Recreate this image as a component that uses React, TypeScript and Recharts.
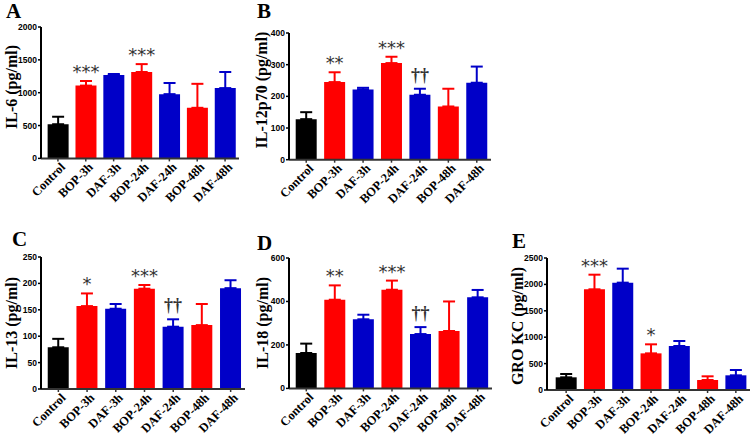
import { BarChart, Bar, XAxis, YAxis, ErrorBar, LabelList } from 'recharts';

const categories = ['Control', 'BOP-3h', 'DAF-3h', 'BOP-24h', 'DAF-24h', 'BOP-48h', 'DAF-48h'];
const groups = ['ctrl', 'bop', 'daf', 'bop', 'daf', 'bop', 'daf'];

// A: IL-6
const il6Mean = [520, 1108, 1268, 1315, 978, 770, 1070];
const il6Err = [114, 70, 17, 120, 170, 365, 245];
const il6Sig = ['', '***', '', '***', '', '', ''];
const il6Ticks = [0, 500, 1000, 1500, 2000];

// B: IL-12p70
const il12Mean = [128, 245, 222, 305, 205, 168, 243];
const il12Err = [22, 31, 5, 20, 19, 56, 51];
const il12Sig = ['', '**', '', '***', '††', '', ''];
const il12Ticks = [0, 100, 200, 300, 400];

// C: IL-13
const il13Mean = [79, 157, 152, 190, 118, 121, 191];
const il13Err = [16, 24, 9, 7, 14, 40, 15];
const il13Sig = ['', '*', '', '***', '††', '', ''];
const il13Ticks = [0, 50, 100, 150, 200, 250];

// D: IL-18
const il18Mean = [163, 408, 318, 454, 250, 264, 419];
const il18Err = [43, 66, 21, 42, 32, 136, 34];
const il18Sig = ['', '**', '', '***', '††', '', ''];
const il18Ticks = [0, 200, 400, 600];

// E: GRO KC
const groMean = [240, 1907, 2033, 694, 833, 189, 278];
const groErr = [63, 277, 265, 171, 95, 70, 101];
const groSig = ['', '***', '', '*', '', '', ''];
const groTicks = [0, 500, 1000, 1500, 2000, 2500];

const RED = '#ff0000';
const BLUE = '#0000c8';
const BLACK = '#000000';

function buildRows(means: number[], errs: number[], sig: string[]) {
  return categories.map((name, i) => {
    const g = groups[i];
    return {
      name,
      ctrl: g === 'ctrl' ? means[i] : null,
      bop: g === 'bop' ? means[i] : null,
      daf: g === 'daf' ? means[i] : null,
      ctrlErr: g === 'ctrl' ? [0, errs[i]] : null,
      bopErr: g === 'bop' ? [0, errs[i]] : null,
      dafErr: g === 'daf' ? [0, errs[i]] : null,
      // invisible spacer stacked up to the whisker top, carries the marks
      pad: sig[i] ? errs[i] : null,
      sig: sig[i],
    };
  });
}

function renderSig(props: any) {
  const vb = props.viewBox ?? props;
  const { x, y, width } = vb;
  const text = props.value;
  if (!text) return null;
  const dagger = String(text).includes('†');
  return (
    <text
      x={x + width / 2}
      y={dagger ? y - 8 : y - 3}
      textAnchor="middle"
      fill="#333"
      fontFamily={dagger ? 'Liberation Serif' : 'DejaVu Sans'}
      fontWeight={dagger ? 700 : 400}
      fontSize={18}
    >
      {text}
    </text>
  );
}

function renderXTick(props: any) {
  const { x, y, payload } = props;
  const px = x + 8;
  const py = y + 4.5;
  return (
    <text
      x={px}
      y={py}
      transform={`rotate(-45 ${px} ${py})`}
      textAnchor="end"
      fontFamily="Liberation Serif"
      fontWeight={700}
      fontSize={12.5}
      fill="#000"
    >
      {payload.value}
    </text>
  );
}

interface PanelProps {
  letter: string;
  letterPos: [number, number];
  label: string;
  labelPos: [number, number];
  axisX: number;
  top: number;
  bottom: number;
  right: number;
  padL: number;
  means: number[];
  errs: number[];
  sig: string[];
  ticks: number[];
}

function Panel(p: PanelProps) {
  const rows = buildRows(p.means, p.errs, p.sig);
  const yw = 40;
  const mt = 10;
  const xh = 60;
  const width = p.right - p.axisX + yw + 1;
  const height = p.bottom - p.top + mt + xh;
  const max = p.ticks[p.ticks.length - 1];
  return (
    <>
      <div
        style={{
          position: 'absolute',
          left: p.letterPos[0],
          top: p.letterPos[1],
          fontFamily: 'Liberation Serif',
          fontWeight: 700,
          fontSize: 21,
          lineHeight: 1,
        }}
      >
        {p.letter}
      </div>
      <div
        style={{
          position: 'absolute',
          left: p.labelPos[0],
          top: p.labelPos[1],
          transform: 'translate(-50%, -50%) rotate(-90deg)',
          whiteSpace: 'nowrap',
          fontFamily: 'Liberation Serif',
          fontWeight: 700,
          fontSize: 16,
          lineHeight: 1,
        }}
      >
        {p.label}
      </div>
      <div style={{ position: 'absolute', left: p.axisX - yw, top: p.top - mt }}>
        <BarChart
          width={width}
          height={height}
          data={rows}
          margin={{ top: mt, right: 1, left: 0, bottom: 0 }}
          barCategoryGap="13%"
        >
          <XAxis
            dataKey="name"
            interval={0}
            height={xh}
            tickSize={3}
            tickMargin={2}
            padding={{ left: p.padL, right: 0 }}
            axisLine={{ stroke: '#333', strokeWidth: 2 }}
            tickLine={{ stroke: '#333', strokeWidth: 1.5 }}
            tick={renderXTick}
          />
          <YAxis
            domain={[0, max]}
            ticks={p.ticks}
            interval={0}
            allowDataOverflow
            width={yw}
            tickSize={3}
            tickMargin={1}
            axisLine={{ stroke: '#000', strokeWidth: 2 }}
            tickLine={{ stroke: '#000', strokeWidth: 1.5 }}
            tick={{ fontSize: 8.5, fontWeight: 700, fontFamily: 'Liberation Sans', fill: '#000' }}
          />
          <Bar dataKey="ctrl" stackId="s" fill={BLACK} isAnimationActive={false}>
            <ErrorBar dataKey="ctrlErr" direction="y" width={6} strokeWidth={2} stroke={BLACK} />
          </Bar>
          <Bar dataKey="bop" stackId="s" fill={RED} isAnimationActive={false}>
            <ErrorBar dataKey="bopErr" direction="y" width={6} strokeWidth={2} stroke={RED} />
          </Bar>
          <Bar dataKey="daf" stackId="s" fill={BLUE} isAnimationActive={false}>
            <ErrorBar dataKey="dafErr" direction="y" width={6} strokeWidth={2} stroke={BLUE} />
          </Bar>
          <Bar dataKey="pad" stackId="s" fill="transparent" isAnimationActive={false}>
            <LabelList dataKey="sig" content={renderSig} />
          </Bar>
        </BarChart>
      </div>
    </>
  );
}

export default function App() {
  return (
    <div
      style={{
        position: 'absolute',
        left: 0,
        top: 0,
        width: 750,
        height: 434,
        overflow: 'hidden',
        background: '#fff',
      }}
    >
      <Panel letter="A" letterPos={[6, 1]} label="IL-6 (pg/ml)" labelPos={[12, 87]}
        axisX={41} top={27.3} bottom={158.7} right={239} padL={3}
        means={il6Mean} errs={il6Err} sig={il6Sig} ticks={il6Ticks} />
      <Panel letter="B" letterPos={[257, 1]} label="IL-12p70 (pg/ml)" labelPos={[262, 90]}
        axisX={289} top={33.3} bottom={160} right={491} padL={3}
        means={il12Mean} errs={il12Err} sig={il12Sig} ticks={il12Ticks} />
      <Panel letter="C" letterPos={[12, 229]} label="IL-13 (pg/ml)" labelPos={[12, 323]}
        axisX={41} top={257.3} bottom={389.3} right={245} padL={3}
        means={il13Mean} errs={il13Err} sig={il13Sig} ticks={il13Ticks} />
      <Panel letter="D" letterPos={[257, 233]} label="IL-18 (pg/ml)" labelPos={[263, 323]}
        axisX={289} top={258.3} bottom={388.7} right={492} padL={3}
        means={il18Mean} errs={il18Err} sig={il18Sig} ticks={il18Ticks} />
      <Panel letter="E" letterPos={[512, 231]} label="GRO KC (pg/ml)" labelPos={[518, 326]}
        axisX={547} top={257.7} bottom={389.7} right={750} padL={5}
        means={groMean} errs={groErr} sig={groSig} ticks={groTicks} />
    </div>
  );
}
